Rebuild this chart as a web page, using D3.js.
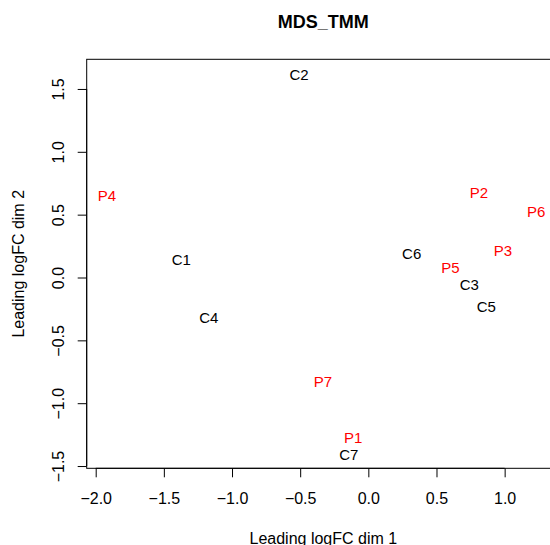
<!DOCTYPE html>
<html>
<head>
<meta charset="utf-8">
<script src="https://cdn.jsdelivr.net/npm/d3@7"></script>
<style>
  html, body { margin: 0; padding: 0; background: #fff; }
  svg { display: block; font-family: "Liberation Sans", Arial, Helvetica, sans-serif; }
</style>
</head>
<body>
<svg id="chart" width="550" height="545"></svg>
<script>
const labels = ["C1","C2","C3","C4","C5","C6","C7","P1","P2","P3","P4","P5","P6","P7"];
const dim1 = [-1.372, -0.508, 0.741, -1.170, 0.866, 0.318, -0.143, -0.112, 0.811, 0.987, -1.917, 0.603, 1.232, -0.333];
const dim2 = [0.146, 1.611, -0.060, -0.318, -0.232, 0.193, -1.407, -1.277, 0.676, 0.217, 0.648, 0.082, 0.527, -0.831];
const groupColor = ["black","black","black","black","black","black","black","red","red","red","red","red","red","red"];
const xTicks = [-2.0, -1.5, -1.0, -0.5, 0.0, 0.5, 1.0];
const yTicks = [-1.5, -1.0, -0.5, 0.0, 0.5, 1.0, 1.5];
const title = "MDS_TMM";
const xLabel = "Leading logFC dim 1";
const yLabel = "Leading logFC dim 2";

const svg = d3.select("#chart");
const L = 86.7, R = 560, T = 59.3, B = 468.3;
const x = d3.scaleLinear().domain([-2.066, 1.406]).range([L, R]);
const y = d3.scaleLinear().domain([-1.518, 1.736]).range([B, T]);
const fs = 15, afs = 16;

// box
svg.append("rect").attr("x", L).attr("y", T).attr("width", R - L).attr("height", B - T)
  .attr("fill", "none").attr("stroke", "#000").attr("stroke-width", 1);

// x axis
const xa = svg.append("g").attr("transform", `translate(0,${B})`)
  .call(d3.axisBottom(x).tickValues(xTicks).tickSize(9).tickPadding(5)
    .tickFormat(d => d3.format(".1f")(d).replace("-", "\u2212")));
xa.select(".domain").attr("d", `M${x(xTicks[0])},0H${x(xTicks[xTicks.length-1])}`).attr("stroke", "#000");
xa.selectAll("line").attr("stroke", "#000");
xa.selectAll("text").attr("font-size", afs).attr("fill", "#000").attr("font-family", null).attr("dy", "0.71em").attr("y", 24.5);

// y axis
const ya = svg.append("g").attr("transform", `translate(${L},0)`)
  .call(d3.axisLeft(y).tickValues(yTicks).tickSize(9)
    .tickFormat(d => d3.format(".1f")(d).replace("-", "\u2212")));
ya.select(".domain").attr("d", `M0,${y(yTicks[0])}V${y(yTicks[yTicks.length-1])}`).attr("stroke", "#000");
ya.selectAll("line").attr("stroke", "#000");
ya.selectAll("text").attr("font-size", afs).attr("fill", "#000").attr("font-family", null)
  .attr("x", null).attr("dy", null)
  .attr("text-anchor", "middle")
  .attr("transform", "translate(-22.5,0) rotate(-90)");

// points as text labels
svg.append("g").selectAll("text").data(labels).join("text")
  .attr("x", (d, i) => x(dim1[i]))
  .attr("y", (d, i) => y(dim2[i]))
  .attr("dy", "0.36em")
  .attr("text-anchor", "middle")
  .attr("font-size", fs)
  .attr("fill", (d, i) => groupColor[i])
  .text(d => d);

// title
svg.append("text").attr("x", (L + R) / 2).attr("y", 27.7).attr("text-anchor", "middle")
  .attr("font-size", 18).attr("font-weight", "bold").text(title);

// axis labels
svg.append("text").attr("x", (L + R) / 2).attr("y", 544).attr("text-anchor", "middle")
  .attr("font-size", afs).text(xLabel);
svg.append("text").attr("transform", `translate(24,${(T + B) / 2}) rotate(-90)`)
  .attr("text-anchor", "middle").attr("font-size", afs).text(yLabel);
</script>
</body>
</html>
